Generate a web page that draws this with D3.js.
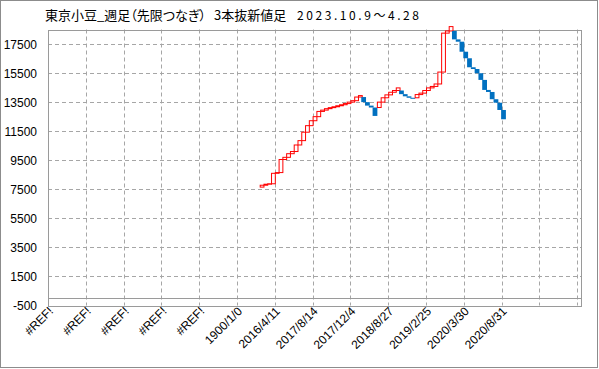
<!DOCTYPE html>
<html>
<head>
<meta charset="utf-8">
<script src="https://cdn.jsdelivr.net/npm/d3@7"></script>
<style>
  body { margin: 0; background: #fff; }
  svg { display: block; }
</style>
</head>
<body>
<svg id="chart" width="599" height="369"></svg>
<script>
//DATA
// one label every 10 weeks, last two ticks have no label
const tickLabels = ["#REF!", "#REF!", "#REF!", "#REF!", "#REF!", "1900/1/0", "2016/4/11",
  "2017/8/14", "2017/12/4", "2018/8/27", "2019/2/25", "2020/3/30", "2020/8/31", "", ""];
const yTicks = [-500, 1500, 3500, 5500, 7500, 9500, 11500, 13500, 15500, 17500];
const catCount = 141;   // number of weekly slots on the category axis
const firstSlot = 56;   // slot of the first line
const firstOpen = 7650; // open of the very first line
// close of every line
const closes = [
  7780, 7850, 7880, 8600, 8650, 9550, 9700, 9950, 10100, 10550, 10850,
  11430, 11880, 12220, 12500, 12860, 12950, 13050, 13120, 13180, 13250, 13320, 13400, 13500, 13600, 13850, 13950,
  13500, 13260, 13130, 12550,
  13500, 13800, 14000, 14180, 14300, 14480,
  14050, 13900, 13800, 13730,
  14020, 14120, 14300, 14480, 14580, 14750, 15570, 18250, 18400, 18700,
  17820, 17660, 16970, 16520, 15900, 15780, 15490, 15030, 14340, 14200, 13700, 13460, 12960, 12320
];

//LAYOUT
const plot = {left: 48, right: 581, top: 29.5, bottom: 305.5};
const gridColor = "#a6a6a6";
const axisColor = "#9a9a9a";
const upColor = "#ff0000";
const downColor = "#0070c0";

// Builds open/close for each line: same direction -> starts at previous close,
// reversal -> starts at previous open (the usual 3-line break drawing)
function buildLines(closeArr) {
  let lines = [];
  for (let i = 0; i < closeArr.length; i++) {
    let open, up;
    if (i === 0) {
      open = firstOpen;
      up = closeArr[i] > open;
    } else {
      const prev = lines[i - 1];
      up = closeArr[i] > prev.close;
      open = (up === prev.up) ? prev.close : prev.open;
    }
    lines.push({slot: firstSlot + i, open: open, close: closeArr[i], up: up});
  }
  return lines;
}
const lines = buildLines(closes);

const svg = d3.select("#chart");

const x = d3.scaleBand()
  .domain(d3.range(catCount))
  .range([plot.left, plot.right])
  .padding(0);
const y = d3.scaleLinear()
  .domain([-500, 18500])
  .range([plot.bottom, plot.top]);

// outer chart frame
svg.append("rect")
  .attr("x", 0.5).attr("y", 0.5)
  .attr("width", 597).attr("height", 367)
  .attr("fill", "#fff")
  .attr("stroke", "#8c8c8c");

// title, in three pieces like the original
// "palt" gives proportional widths to the full-width brackets
const titleFont = "'Noto Sans CJK JP', sans-serif";
svg.append("text")
  .attr("x", 45).attr("y", 20)
  .style("font-family", titleFont)
  .style("font-size", "13px")
  .style("font-feature-settings", "'palt'")
  .text("東京小豆_週足（先限つなぎ）");
svg.append("text")
  .attr("x", 214).attr("y", 20)
  .style("font-family", titleFont)
  .style("font-size", "13px")
  .style("font-feature-settings", "'palt'")
  .text("3本抜新値足");
svg.append("text")
  .attr("x", 297).attr("y", 20)
  .attr("textLength", 122)
  .attr("lengthAdjust", "spacing")
  .style("font-family", titleFont)
  .style("font-size", "12px")
  .text("2023.10.9～4.28");

// horizontal gridlines (dashed)
svg.append("g").selectAll("line")
  .data(yTicks.filter(v => v !== -500))
  .enter()
  .append("line")
  .attr("x1", plot.left).attr("x2", plot.right)
  .attr("y1", d => Math.round(y(d)) + 0.5)
  .attr("y2", d => Math.round(y(d)) + 0.5)
  .attr("stroke", gridColor)
  .attr("stroke-dasharray", "4,3");

// vertical gridlines at every 10th slot boundary
const tickSlots = tickLabels.map((t, i) => i * 10);
svg.append("g").selectAll("line")
  .data(tickSlots.filter(s => s > 0))
  .enter()
  .append("line")
  .attr("x1", d => Math.round(x(d)) + 0.5)
  .attr("x2", d => Math.round(x(d)) + 0.5)
  .attr("y1", plot.top).attr("y2", plot.bottom)
  .attr("stroke", gridColor)
  .attr("stroke-dasharray", "4,3");

// plot border + zero line
svg.append("rect")
  .attr("x", plot.left + 0.5).attr("y", Math.round(plot.top) + 0.5)
  .attr("width", plot.right - plot.left)
  .attr("height", Math.round(plot.bottom) - Math.round(plot.top))
  .attr("fill", "none")
  .attr("stroke", axisColor);
svg.append("line")
  .attr("x1", plot.left).attr("x2", plot.right)
  .attr("y1", Math.round(y(0)) + 0.5).attr("y2", Math.round(y(0)) + 0.5)
  .attr("stroke", axisColor);

// y tick labels
svg.append("g").selectAll("text")
  .data(yTicks)
  .enter()
  .append("text")
  .attr("x", 37)
  .attr("y", d => y(d) + 4.5)
  .attr("text-anchor", "end")
  .style("font-family", "'Liberation Sans', Arial, sans-serif")
  .style("font-size", "12px")
  .attr("fill", "#000")
  .text(d => d);

// x tick labels, rotated
svg.append("g").selectAll("text")
  .data(tickLabels.map((t, i) => ({t: t, slot: i * 10})).filter(d => d.t !== ""))
  .enter()
  .append("text")
  .attr("transform", d => "translate(" + (x(d.slot) + x.bandwidth() / 2 + 4) + "," + 312 + ") rotate(-45)")
  .attr("text-anchor", "end")
  .style("font-family", "'Liberation Sans', Arial, sans-serif")
  .style("font-size", "12px")
  .attr("fill", "#000")
  .text(d => d.t);

// the lines (boxes)
const bw = x.bandwidth();
svg.append("g").selectAll("rect")
  .data(lines)
  .enter()
  .append("rect")
  .attr("x", d => d.up ? x(d.slot) + 0.5 : x(d.slot) - 0.5)
  .attr("width", d => d.up ? bw : bw + 1)
  .attr("y", d => y(Math.max(d.open, d.close)))
  .attr("height", d => Math.abs(y(d.open) - y(d.close)))
  .attr("fill", d => d.up ? "#fff" : downColor)
  .attr("stroke", d => d.up ? upColor : "none")
  .attr("stroke-width", 1);
</script>
</body>
</html>
